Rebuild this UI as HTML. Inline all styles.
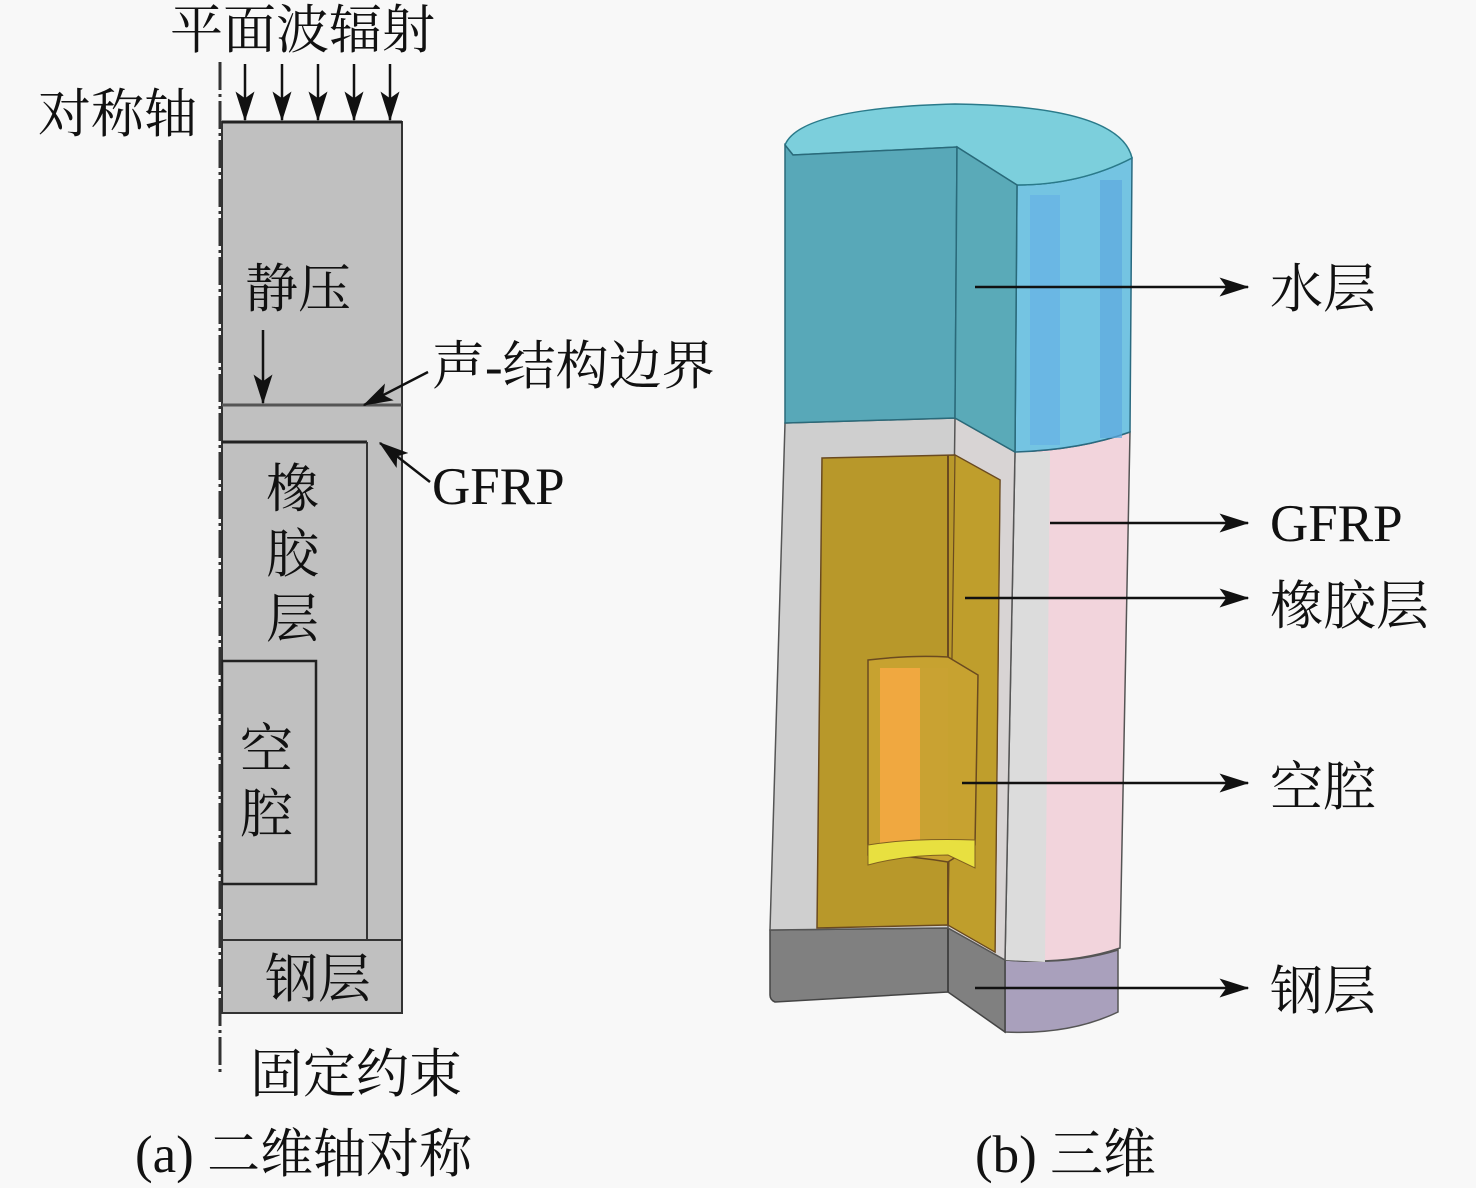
<!DOCTYPE html>
<html><head><meta charset="utf-8"><style>
html,body{margin:0;padding:0;background:#f8f8f8;}
svg{display:block;}
text{font-family:"Liberation Serif","Noto Serif CJK SC",serif;fill:#111;}
</style></head><body>
<svg width="1476" height="1188" viewBox="0 0 1476 1188" xmlns="http://www.w3.org/2000/svg">
<defs>
<marker id="av" viewBox="0 0 22 14" refX="21" refY="7" markerWidth="30" markerHeight="19" markerUnits="userSpaceOnUse" orient="auto">
<path d="M0,0 L22,7 L0,14 L5,7 Z" fill="#111"/></marker>
</defs>
<rect width="1476" height="1188" fill="#f8f8f8"/>

<rect x="222" y="122" width="180" height="891" fill="#c0c0c0" stroke="#333" stroke-width="2"/>
<line x1="222" y1="122" x2="402" y2="122" stroke="#222" stroke-width="3"/>
<line x1="222" y1="405" x2="402" y2="405" stroke="#555" stroke-width="3"/>
<line x1="222" y1="442" x2="367" y2="442" stroke="#222" stroke-width="3"/>
<line x1="367" y1="442" x2="367" y2="940" stroke="#333" stroke-width="2"/>
<line x1="222" y1="940" x2="402" y2="940" stroke="#333" stroke-width="2"/>
<rect x="222" y="661" width="94" height="223" fill="none" stroke="#222" stroke-width="2.5"/>
<line x1="220" y1="62" x2="220" y2="1075" stroke="#333" stroke-width="3" stroke-dasharray="28,4,3,4"/>
<g stroke="#111" stroke-width="2.5">
<line x1="245" y1="64" x2="245" y2="120" marker-end="url(#av)"/>
<line x1="282" y1="64" x2="282" y2="120" marker-end="url(#av)"/>
<line x1="318" y1="64" x2="318" y2="120" marker-end="url(#av)"/>
<line x1="354" y1="64" x2="354" y2="120" marker-end="url(#av)"/>
<line x1="390" y1="64" x2="390" y2="120" marker-end="url(#av)"/>
<line x1="263" y1="330" x2="263" y2="403" marker-end="url(#av)"/>
<line x1="428" y1="372" x2="364" y2="405" marker-end="url(#av)"/>
<line x1="430" y1="482" x2="380" y2="443" marker-end="url(#av)"/>
</g>
<g font-size="53">
<text x="170" y="48">平面波辐射</text>
<text x="38" y="132">对称轴</text>
<text x="245" y="307">静压</text>
<text x="432" y="384">声-结构边界</text>
<text x="432" y="504">GFRP</text>
<text x="266" y="507">橡</text>
<text x="266" y="572">胶</text>
<text x="266" y="637">层</text>
<text x="240" y="767">空</text>
<text x="240" y="832">腔</text>
<text x="265" y="997">钢层</text>
<text x="250" y="1092">固定约束</text>
<text x="135" y="1172">(a) 二维轴对称</text>
<text x="975" y="1172">(b) 三维</text>
</g>

<path d="M1005,960 Q1070,965 1118,950 L1118,1012 Q1070,1035 1005,1032 Z" fill="#a9a0bc" stroke="#555" stroke-width="1.5"/>
<path d="M770,930 L948,928 L1005,958 L1005,1032 L948,992 L775,1002 Q770,1000 770,995 Z" fill="#808080" stroke="#444" stroke-width="1.5"/>
<line x1="948" y1="928" x2="948" y2="992" stroke="#444" stroke-width="2"/>
<path d="M1015,452 Q1080,450 1130,432 L1120,948 Q1070,965 1005,960 Z" fill="#f2d4dc" stroke="#555" stroke-width="1.5"/>
<path d="M1015,452 L1005,960 L1045,962 L1050,452 Z" fill="#dcdcdc"/>
<path d="M785,423 L955,418 L1015,452 L1005,960 L948,928 L770,930 Z" fill="#cfcfcf" stroke="#555" stroke-width="1.5"/>
<path d="M955,418 L1015,452 L1005,960 L948,928 Z" fill="#d8d4d4" stroke="#555" stroke-width="1.5"/>
<path d="M822,458 L955,455 L1000,480 L995,952 L948,925 L817,928 Z" fill="#b8982a" stroke="#6a4a20" stroke-width="1.5"/>
<path d="M955,455 L1000,480 L995,952 L948,925 Z" fill="#bf9e2c" stroke="#6a4a20" stroke-width="1.2"/>
<path d="M868,660 Q910,655 948,657 L978,675 L975,845 L948,862 Q905,855 868,855 Z" fill="#c7a230" stroke="#6a4a20" stroke-width="1.5"/>
<rect x="880" y="668" width="40" height="175" fill="#f0a840"/>
<rect x="920" y="668" width="28" height="175" fill="#c9a232"/>
<path d="M868,845 Q910,838 975,840 L975,868 L948,855 Q905,855 868,865 Z" fill="#e8e040" stroke="#806020" stroke-width="1"/>
<line x1="948" y1="455" x2="948" y2="657" stroke="#6a4a20" stroke-width="2"/>
<line x1="948" y1="862" x2="948" y2="925" stroke="#6a4a20" stroke-width="2"/>
<path d="M1017,185 Q1080,185 1132,158 L1130,432 Q1080,450 1015,452 Z" fill="#74c4e2" stroke="#2a6a80" stroke-width="1.5"/>
<rect x="1030" y="195" width="30" height="250" fill="#66b2e6" opacity=".7"/>
<rect x="1100" y="180" width="22" height="258" fill="#5eaae0" opacity=".7"/>
<path d="M785,145 Q800,108 955,104 Q1120,106 1132,158 Q1080,185 1017,185 L957,147 L793,155 Z" fill="#7ccfdc" stroke="#2a7a8a" stroke-width="1.5"/>
<path d="M785,145 L793,155 L957,147 L955,418 L785,423 Z" fill="#58a8b8" stroke="#2a6a7a" stroke-width="1.5"/>
<path d="M957,147 L1017,185 L1015,452 L955,418 Z" fill="#5aaab8" stroke="#2a6a7a" stroke-width="1.5"/>

<g stroke="#111" stroke-width="2.5">
<line x1="975" y1="287" x2="1248" y2="287" marker-end="url(#av)"/>
<line x1="1050" y1="523" x2="1248" y2="523" marker-end="url(#av)"/>
<line x1="965" y1="598" x2="1248" y2="598" marker-end="url(#av)"/>
<line x1="962" y1="783" x2="1248" y2="783" marker-end="url(#av)"/>
<line x1="975" y1="988" x2="1248" y2="988" marker-end="url(#av)"/>
</g>
<g font-size="53">
<text x="1270" y="307">水层</text>
<text x="1270" y="541">GFRP</text>
<text x="1270" y="624">橡胶层</text>
<text x="1270" y="805">空腔</text>
<text x="1270" y="1009">钢层</text>
</g>
</svg>
</body></html>
